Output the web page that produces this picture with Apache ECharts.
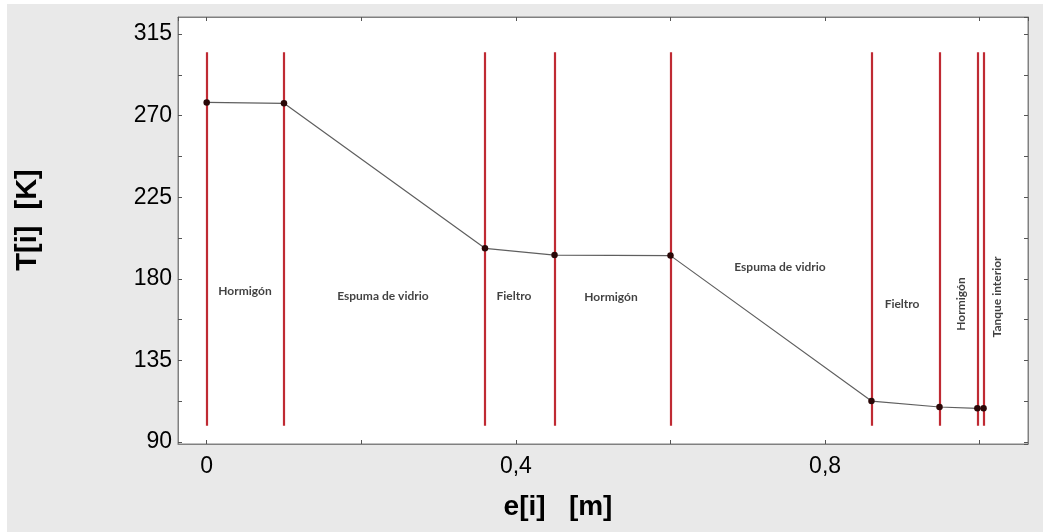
<!DOCTYPE html>
<html><head><meta charset="utf-8">
<script src="https://cdn.jsdelivr.net/npm/echarts@6/dist/echarts.min.js"></script>
<style>html,body{margin:0;padding:0;background:#fff}#c{width:1043px;height:532px}</style>
</head><body><div id="c"></div>
<script>
// ---- data ----
const positions = [0, 0.1, 0.36, 0.45, 0.6, 0.86, 0.948, 0.997, 1.005];      // e[i] [m]
const temperatures = [277.3, 276.8, 196.8, 193.1, 192.8, 112.6, 109.3, 108.6, 108.6]; // T[i] [K]
const layerNames = ['Hormigón', 'Espuma de vidrio', 'Fieltro', 'Hormigón', 'Espuma de vidrio', 'Fieltro', 'Hormigón', 'Tanque interior'];
const xTickValues = [0, 0.4, 0.8];
const xTickLabels = ['0', '0,4', '0,8'];
const yTickValues = [90, 135, 180, 225, 270, 315];
const yTickLabels = ['90', '135', '180', '225', '270', '315'];
const boundaryRange = [99, 305];

// ---- layout of annotations (data coords) ----
const layerLabelAnchors = [
  [0.0495, 173.3, 0], [0.228, 170.6, 0], [0.3975, 170.6, 0], [0.523, 170.0, 0],
  [0.7417, 186.6, 0], [0.8996, 166.1, 0], [0.9759, 166.1, 90], [1.022, 170.0, 90]
];

const X_MIN = -0.0371, X_MAX = 1.0625, Y_MIN = 88.9, Y_MAX = 324.4;
const font = "'Liberation Sans', Arial, sans-serif";

function fmt(vals, labels) {
  return function (v) {
    for (let i = 0; i < vals.length; i++) if (Math.abs(v - vals[i]) < 1e-6) return labels[i];
    return '';
  };
}

const baseX = {
  type: 'value', min: X_MIN, max: X_MAX, minInterval: 0.2, maxInterval: 0.2,
  axisLine: { show: true, onZero: false, lineStyle: { color: '#808080', width: 1 } },
  axisTick: { show: true, inside: true, length: 4, lineStyle: { color: '#555' } },
  splitLine: { show: false }
};
const baseY = {
  type: 'value', min: Y_MIN, max: Y_MAX, minInterval: 22.5, maxInterval: 22.5,
  axisLine: { show: true, onZero: false, lineStyle: { color: '#808080', width: 1 } },
  axisTick: { show: true, inside: true, length: 4, lineStyle: { color: '#555' } },
  splitLine: { show: false }
};

const chart = echarts.init(document.getElementById('c'), null, { renderer: 'canvas' });
chart.setOption({
  backgroundColor: '#e9e9e9',
  animation: false,
  grid: { left: 178, top: 17, right: 15, bottom: 88, show: true, backgroundColor: '#fff', borderColor: '#808080', borderWidth: 1, containLabel: false },
  xAxis: [
    Object.assign({}, baseX, { position: 'bottom',
      axisLabel: { show: true, margin: 11, color: '#000', fontSize: 23, fontFamily: font, formatter: fmt(xTickValues, xTickLabels), showMinLabel: false, showMaxLabel: false } }),
    Object.assign({}, baseX, { position: 'top', axisLabel: { show: false } })
  ],
  yAxis: [
    Object.assign({}, baseY, { position: 'left',
      axisLabel: { show: true, margin: 6, color: '#000', fontSize: 23, fontFamily: font, formatter: fmt(yTickValues, yTickLabels), showMinLabel: false, showMaxLabel: false } }),
    Object.assign({}, baseY, { position: 'right', axisLabel: { show: false } })
  ],
  graphic: [
    { type: 'rect', shape: { x: 0, y: 0, width: 1043, height: 4 }, style: { fill: '#fff' }, silent: true },
    { type: 'rect', shape: { x: 0, y: 0, width: 7, height: 532 }, style: { fill: '#fff' }, silent: true },
    { type: 'text', x: 558, y: 507, style: { text: 'e[i]   [m]', font: "bold 28px " + font, fill: '#000', align: 'center', verticalAlign: 'middle' } },
    { type: 'text', x: 27.5, y: 220, rotation: Math.PI / 2, style: { text: 'T[i]  [K]', font: "bold 29px " + font, fill: '#000', align: 'center', verticalAlign: 'middle' } }
  ],
  series: [
    {
      type: 'line', xAxisIndex: 0, yAxisIndex: 0, data: [], silent: true,
      markLine: {
        silent: true, symbol: ['none', 'none'], label: { show: false },
        lineStyle: { color: '#bf2a33', width: 2.2, type: 'solid' },
        emphasis: { disabled: true },
        data: positions.map(x => [{ coord: [x, boundaryRange[0]] }, { coord: [x, boundaryRange[1]] }])
      }
    },
    {
      type: 'line', xAxisIndex: 0, yAxisIndex: 0, z: 5,
      data: positions.map((x, i) => [x, temperatures[i]]),
      symbol: 'circle', symbolSize: 6.5, showAllSymbol: true,
      itemStyle: { color: '#2a0808' },
      lineStyle: { color: '#5f5f5f', width: 1.2 }
    },
    {
      type: 'scatter', xAxisIndex: 0, yAxisIndex: 0, symbolSize: 0, silent: true, z: 6,
      data: layerNames.map((n, i) => ({
        name: n, value: [layerLabelAnchors[i][0], layerLabelAnchors[i][1]],
        label: { rotate: layerLabelAnchors[i][2] }
      })),
      label: { show: true, position: 'inside', formatter: p => p.name, color: '#111', fontSize: 12, fontWeight: 'bold', fontFamily: "Lato, 'Open Sans', sans-serif" }
    }
  ]
});
</script></body></html>
